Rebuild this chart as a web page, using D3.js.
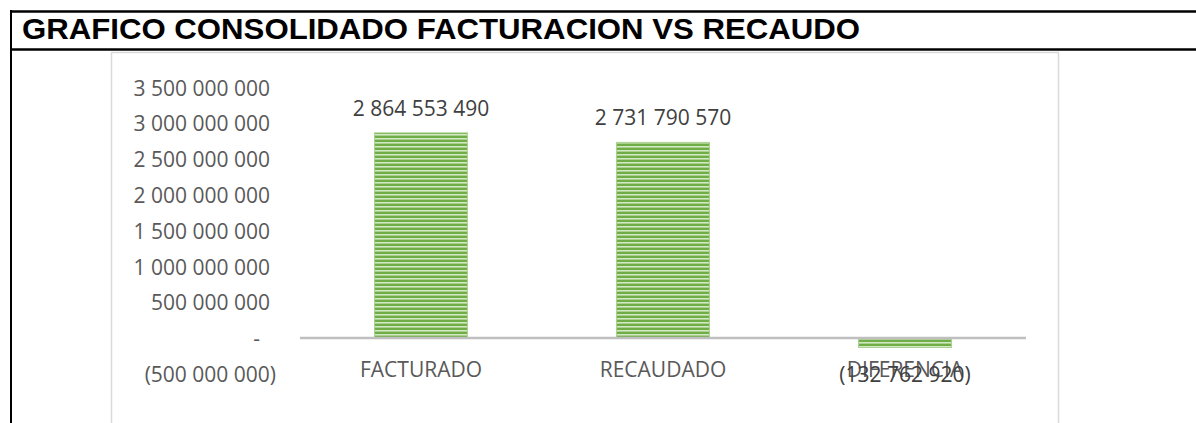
<!DOCTYPE html>
<html>
<head>
<meta charset="utf-8">
<script src="https://cdn.jsdelivr.net/npm/d3@7"></script>
<style>
  body { margin: 0; background: #fff; }
  svg { display: block; }
  .tick text, .lbl { font-family: "Open Sans", sans-serif; fill: #595959; }
  .val { font-family: "Open Sans", sans-serif; fill: #404040; }
</style>
</head>
<body>
<svg id="chart"></svg>
<script>
const categories = ["FACTURADO", "RECAUDADO", "DIFERENCIA"];
const values = [2864553490, 2731790570, -132762920];
const tickValues = [-500000000, 0, 500000000, 1000000000, 1500000000, 2000000000, 2500000000, 3000000000, 3500000000];
const title = "GRAFICO CONSOLIDADO FACTURACION VS RECAUDO";

const W = 1196, H = 423;
const svg = d3.select("#chart").attr("width", W).attr("height", H);

// outer table frame
svg.append("line").attr("x1", 10).attr("x2", W).attr("y1", 11.5).attr("y2", 11.5)
    .attr("stroke", "#000").attr("stroke-width", 2.5);
svg.append("line").attr("x1", 10).attr("x2", W).attr("y1", 49.5).attr("y2", 49.5)
    .attr("stroke", "#000").attr("stroke-width", 2.5);
svg.append("line").attr("x1", 11).attr("x2", 11).attr("y1", 10).attr("y2", H)
    .attr("stroke", "#000").attr("stroke-width", 2);

svg.append("text")
    .attr("x", 22).attr("y", 39)
    .attr("font-family", "Liberation Sans, Arial, sans-serif")
    .attr("font-weight", "bold")
    .attr("font-size", 30)
    .attr("textLength", 838)
    .attr("lengthAdjust", "spacingAndGlyphs")
    .attr("fill", "#000")
    .text(title);

// chart area frame
svg.append("path")
    .attr("d", `M111.5,${H} V52.5 H1058.5 V${H}`)
    .attr("fill", "none").attr("stroke", "#d9d9d9").attr("stroke-width", 1.5);

// stripe pattern for bars
const defs = svg.append("defs");
const pat = defs.append("pattern").attr("id", "stripes")
    .attr("patternUnits", "userSpaceOnUse").attr("width", 8).attr("height", 4);
pat.append("rect").attr("width", 8).attr("height", 4).attr("fill", "#70ad47");
pat.append("rect").attr("y", 2).attr("width", 8).attr("height", 1).attr("fill", "#d3e8c5");
pat.append("rect").attr("y", 3).attr("width", 8).attr("height", 1).attr("fill", "#a9d18e");

const x = d3.scaleBand()
    .domain(categories)
    .range([300, 1026])
    .paddingInner(0.616)
    .paddingOuter(0.308);

const y = d3.scaleLinear()
    .domain([-500000000, 3500000000])
    .range([373.8, 87.4]);

const fmt = v => {
  if (v === 0) return "-";
  const s = d3.format(",")(Math.abs(v)).replace(/,/g, " ");
  return v < 0 ? "(" + s + ")" : s;
};

const yAxis = svg.append("g")
    .attr("transform", "translate(300,1)")
    .call(d3.axisLeft(y).tickValues(tickValues).tickSize(0).tickPadding(30).tickFormat(fmt));
yAxis.select(".domain").remove();
yAxis.selectAll(".tick text")
    .attr("font-size", 21)
    .attr("dx", d => d < 0 ? 6 : (d === 0 ? -10 : 0));

// bars
svg.append("g").selectAll("rect")
    .data(values)
    .join("rect")
    .attr("x", (d, i) => x(categories[i]))
    .attr("width", x.bandwidth())
    .attr("y", d => y(Math.max(0, d)))
    .attr("height", d => Math.abs(y(d) - y(0)))
    .attr("fill", "url(#stripes)")
    .attr("stroke", "#a9d18e")
    .attr("stroke-width", 1);

// baseline
svg.append("line")
    .attr("x1", 300).attr("x2", 1026)
    .attr("y1", y(0)).attr("y2", y(0))
    .attr("stroke", "#bfbfbf").attr("stroke-width", 2.5);

// category labels
svg.append("g").selectAll("text")
    .data(categories)
    .join("text")
    .attr("class", "lbl")
    .attr("x", d => x(d) + x.bandwidth() / 2)
    .attr("y", y(0) + 39)
    .attr("text-anchor", "middle")
    .attr("font-size", 21)
    .text(d => d);

// value labels
svg.append("g").selectAll("text")
    .data(values)
    .join("text")
    .attr("class", "val")
    .attr("x", (d, i) => x(categories[i]) + x.bandwidth() / 2)
    .attr("y", d => d >= 0 ? y(d) - 17 : y(0) + 44)
    .attr("text-anchor", "middle")
    .attr("font-size", 21)
    .text(d => fmt(d));
</script>
</body>
</html>
